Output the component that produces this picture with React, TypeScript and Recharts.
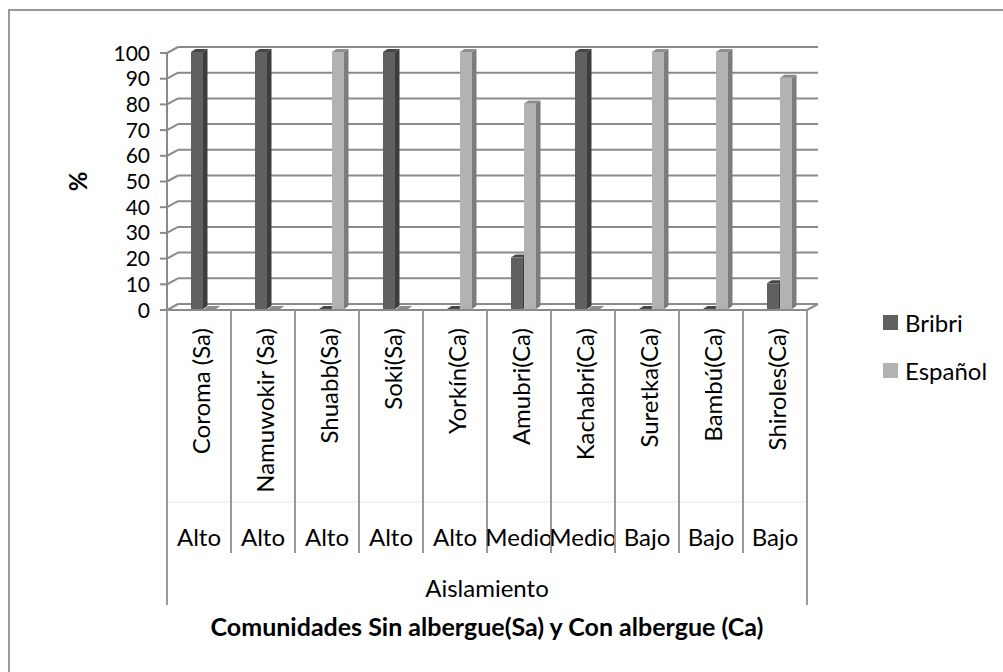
import { BarChart, Bar, XAxis, YAxis, CartesianGrid, Legend } from 'recharts'

const comunidades = [
  'Coroma (Sa)',
  'Namuwokir (Sa)',
  'Shuabb(Sa)',
  'Soki(Sa)',
  'Yorkín(Ca)',
  'Amubri(Ca)',
  'Kachabri(Ca)',
  'Suretka(Ca)',
  'Bambú(Ca)',
  'Shiroles(Ca)',
]
const aislamiento = ['Alto', 'Alto', 'Alto', 'Alto', 'Alto', 'Medio', 'Medio', 'Bajo', 'Bajo', 'Bajo']
const bribri = [100, 100, 0, 100, 0, 20, 100, 0, 0, 10]
const espanol = [0, 0, 100, 0, 100, 80, 0, 100, 100, 90]
const yTicks = [0, 10, 20, 30, 40, 50, 60, 70, 80, 90, 100]

const data = comunidades.map((comunidad, i) => ({
  comunidad,
  nivel: aislamiento[i],
  Bribri: bribri[i],
  Español: espanol[i],
}))

const FONT = 'Lato, "Open Sans", sans-serif'
const LINE = '#8a8a8a'
// depth of the walls (back wall offset) and of the bars
const WALL_DX = 11
const WALL_DY = 6
const BAR_SHIFT = 4
const BAR_DX = 4.5
const BAR_DY = 3

const bar3d = (front: string, side: string, top: string) => (props: any) => {
  const { x, y, width, height, index } = props
  const fx = x + BAR_SHIFT
  const fy = y - 1
  return (
    <g key={`b-${index}`}>
      <rect x={fx} y={fy} width={width} height={height} fill={front} />
      <polygon
        points={`${fx + width},${fy} ${fx + width + BAR_DX},${fy - BAR_DY} ${fx + width + BAR_DX},${fy + height - BAR_DY} ${fx + width},${fy + height}`}
        fill={side}
      />
      <polygon
        points={`${fx},${fy} ${fx + BAR_DX},${fy - BAR_DY} ${fx + width + BAR_DX},${fy - BAR_DY} ${fx + width},${fy}`}
        fill={top}
      />
    </g>
  )
}

const gridLine = (props: any) => {
  const { x1, y1, x2, index } = props
  return (
    <g key={`gl-${index}`}>
      <line x1={x1} y1={y1} x2={x1 + WALL_DX} y2={y1 - WALL_DY} stroke={LINE} strokeWidth={2} />
      <line x1={x1 + WALL_DX} y1={y1 - WALL_DY} x2={x2 + WALL_DX} y2={y1 - WALL_DY} stroke={LINE} strokeWidth={2} />
    </g>
  )
}

const YTick = (props: any) => {
  const { x, y, payload } = props
  return (
    <g>
      <line x1={x - 7} y1={y} x2={x} y2={y} stroke={LINE} strokeWidth={2} />
      <text x={x - 17} y={y} dy="0.36em" textAnchor="end" fontSize={21} fontFamily={FONT} fill="#000">
        {payload.value}
      </text>
    </g>
  )
}

const XTick = (props: any) => {
  const { x, y, index, width, visibleTicksCount } = props
  const band = width / visibleTicksCount
  const left = x - band / 2
  const right = x + band / 2
  const last = index === visibleTicksCount - 1
  return (
    <g>
      <line x1={left} y1={y + 192} x2={right} y2={y + 192} stroke="#e4e4e4" strokeWidth={1} />
      <line x1={left} y1={y} x2={left} y2={index === 0 ? y + 295 : y + 243} stroke="#9a9a9a" strokeWidth={2} />
      {last && (
        <>
          <line x1={right} y1={y} x2={right} y2={y + 295} stroke="#9a9a9a" strokeWidth={2} />
          <line x1={right} y1={y} x2={right + WALL_DX} y2={y - WALL_DY} stroke={LINE} strokeWidth={2} />
        </>
      )}
      <text
        transform={`translate(${x + 2},${y + 18}) rotate(-90)`}
        dy="0.36em"
        textAnchor="end"
        fontSize={24}
        fontFamily={FONT}
        fill="#000"
      >
        {comunidades[index]}
      </text>
      <text x={x} y={y + 227} dy="0.36em" textAnchor="middle" fontSize={24} fontFamily={FONT} fill="#000">
        {aislamiento[index]}
      </text>
    </g>
  )
}

const XLabel = (props: any) => {
  const { x, y, width } = props.viewBox
  return (
    <g>
      <text x={x + width / 2} y={y + 278} dy="0.36em" textAnchor="middle" fontSize={24} fontFamily={FONT} fill="#000">
        Aislamiento
      </text>
      <text
        x={x + width / 2}
        y={y + 317}
        dy="0.36em"
        textAnchor="middle"
        fontSize={25}
        fontWeight="bold"
        fontFamily={FONT}
        fill="#000"
      >
        Comunidades Sin albergue(Sa) y Con albergue (Ca)
      </text>
    </g>
  )
}

const YLabel = (props: any) => {
  const { x, y, height } = props.viewBox
  const cx = x + 78
  const cy = y + height / 2
  return (
    <text
      transform={`translate(${cx},${cy}) rotate(-90)`}
      dy="0.36em"
      textAnchor="middle"
      fontSize={24}
      fontWeight="bold"
      fontFamily={FONT}
      fill="#000"
    >
      %
    </text>
  )
}

const renderLegend = (props: any) => (
  <div style={{ fontFamily: FONT, fontSize: 24, color: '#000' }}>
    {props.payload.map((entry: any) => (
      <div key={entry.value} style={{ display: 'flex', alignItems: 'center', height: 48 }}>
        <span style={{ display: 'inline-block', width: 15, height: 15, background: entry.color, marginRight: 7 }} />
        <span>{entry.value}</span>
      </div>
    ))}
  </div>
)

export default function App() {
  return (
    <div
      style={{
        position: 'absolute',
        left: 0,
        top: 0,
        width: 1003,
        height: 672,
        overflow: 'hidden',
        background: '#fff',
        fontFamily: FONT,
      }}
    >
      <div
        style={{
          position: 'absolute',
          left: 8,
          top: 9,
          width: 1100,
          height: 800,
          borderLeft: '2px solid #999',
          borderTop: '2px solid #999',
        }}
      />
      <BarChart
        width={1003}
        height={672}
        data={data}
        margin={{ top: 53, right: 196, bottom: 62, left: 0 }}
        barSize={12}
        barGap={1}
      >
        <CartesianGrid vertical={false} horizontal={gridLine} />
        <XAxis
          dataKey="comunidad"
          height={300}
          interval={0}
          tickLine={false}
          tickSize={0}
          tickMargin={0}
          axisLine={{ stroke: LINE, strokeWidth: 2 }}
          tick={<XTick />}
          label={<XLabel />}
        />
        <YAxis
          width={167}
          domain={[0, 100]}
          ticks={yTicks}
          interval={0}
          tickLine={false}
          tickSize={0}
          tickMargin={0}
          axisLine={{ stroke: LINE, strokeWidth: 2 }}
          tick={<YTick />}
          label={<YLabel />}
        />
        <Legend
          layout="horizontal"
          align="center"
          verticalAlign="middle"
          content={renderLegend}
          wrapperStyle={{ position: 'absolute', left: 883, top: 298, width: 120 }}
        />
        <Bar dataKey="Bribri" fill="#606060" isAnimationActive={false} shape={bar3d('#606060', '#3d3d3d', '#474747')} />
        <Bar dataKey="Español" fill="#b2b2b2" isAnimationActive={false} shape={bar3d('#b2b2b2', '#7c7c7c', '#8c8c8c')} />
      </BarChart>
    </div>
  )
}
